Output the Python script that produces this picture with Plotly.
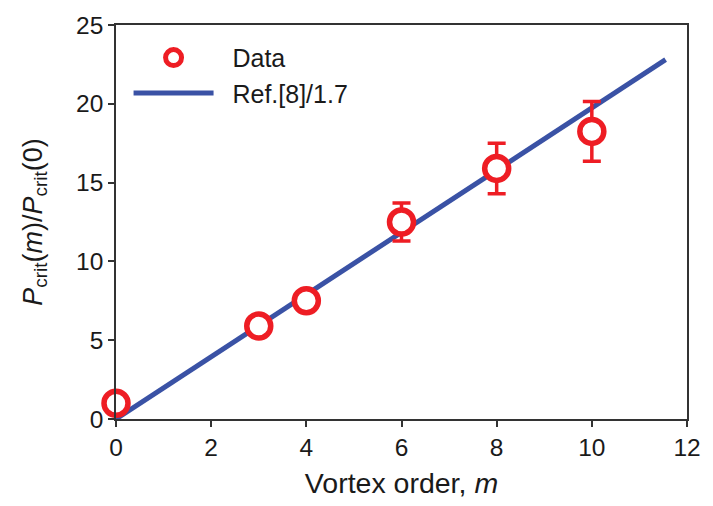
import plotly.graph_objects as go

# Data
m_vals = [0, 3, 4, 6, 8, 10]
p_ratio = [1.0, 5.9, 7.5, 12.5, 15.9, 18.25]
p_err = [0, 0, 0, 1.2, 1.6, 1.9]

ref_x = [0, 11.55]
ref_y = [0, 22.8]

x_ticks = [0, 2, 4, 6, 8, 10, 12]
y_ticks = [0, 5, 10, 15, 20, 25]

RED = "#EE1D24"
BLUE = "#3A52A5"
FONT = "Liberation Sans, Arial, sans-serif"

fig = go.Figure()
fig.add_trace(go.Scatter(
    x=ref_x, y=ref_y, mode="lines", name="&nbsp;&nbsp;Ref.[8]/1.7",
    line=dict(color=BLUE, width=5),
))
fig.add_trace(go.Scatter(
    x=m_vals, y=p_ratio, mode="markers", name="&nbsp;&nbsp;Data",
    marker=dict(symbol="circle", size=24, color="white",
                line=dict(color=RED, width=5.5)),
    error_y=dict(type="data", array=p_err, visible=True,
                 color=RED, thickness=3.5, width=9),
    cliponaxis=False,
))

fig.update_layout(
    width=713, height=506,
    margin=dict(l=116, r=20, t=17, b=85),
    paper_bgcolor="white", plot_bgcolor="white",
    font=dict(family=FONT, size=24, color="#1a1a1a"),
    showlegend=True,
    legend=dict(
        x=0.022, y=0.975, xanchor="left", yanchor="top",
        traceorder="reversed",
        font=dict(size=25), itemwidth=80,
        bgcolor="rgba(0,0,0,0)", tracegroupgap=0,
    ),
    xaxis=dict(
        range=[0, 12], tickvals=x_ticks, showgrid=False, zeroline=False,
        showline=True, linecolor="#333", linewidth=1.5, mirror=True,
        ticks="outside", ticklen=6, tickwidth=1.5, tickcolor="#333",
        tickfont=dict(size=24.5),
        title=dict(text="Vortex order, <i>m</i>", font=dict(size=28.5), standoff=13),
    ),
    yaxis=dict(
        range=[0, 25], tickvals=y_ticks, showgrid=False, zeroline=False,
        showline=True, linecolor="#333", linewidth=1.5, mirror=True,
        ticks="outside", ticklen=6, tickwidth=1.5, tickcolor="#333",
        tickfont=dict(size=24.5),
        title=dict(text="<i>P</i><sub>crit</sub>(<i>m</i>)/<i>P</i><sub>crit</sub>(0)",
                   font=dict(size=27), standoff=26),
    ),
)

fig.write_html("out.html")
